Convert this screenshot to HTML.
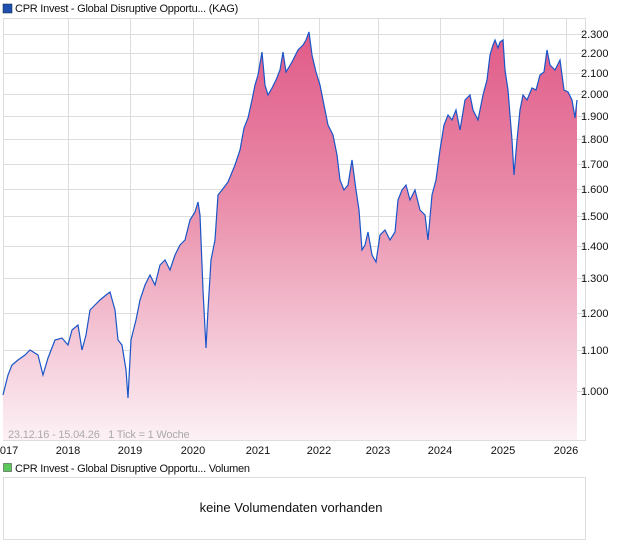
<!DOCTYPE html>
<html><head><meta charset="utf-8"><style>
body{margin:0;background:#fff;width:620px;height:546px;overflow:hidden;font-family:"Liberation Sans",sans-serif}
</style></head><body>
<svg width="620" height="546" xmlns="http://www.w3.org/2000/svg" font-family="Liberation Sans, sans-serif">
<defs><linearGradient id="g" x1="0" y1="30" x2="0" y2="440" gradientUnits="userSpaceOnUse">
<stop offset="0" stop-color="#e05a88"/><stop offset="0.4" stop-color="#e98aa8"/><stop offset="1" stop-color="#fcf1f5"/></linearGradient></defs>
<rect x="3" y="4" width="9" height="9" fill="#1f4fb0" stroke="#123" stroke-width="0.5"/>
<text x="15" y="12" font-size="11" letter-spacing="-0.25" fill="#111">CPR Invest - Global Disruptive Opportu... (KAG)</text>
<rect x="3.5" y="18.5" width="582" height="422" fill="#fff" stroke="#ddd"/>
<g stroke="#ddd" stroke-width="1">
<line x1="68.5" y1="18" x2="68.5" y2="440"/><line x1="130.5" y1="18" x2="130.5" y2="440"/><line x1="193.5" y1="18" x2="193.5" y2="440"/><line x1="258.5" y1="18" x2="258.5" y2="440"/><line x1="319.5" y1="18" x2="319.5" y2="440"/><line x1="378.5" y1="18" x2="378.5" y2="440"/><line x1="440.5" y1="18" x2="440.5" y2="440"/><line x1="503.5" y1="18" x2="503.5" y2="440"/><line x1="566.5" y1="18" x2="566.5" y2="440"/>
<line x1="3" y1="34.5" x2="585" y2="34.5"/><line x1="3" y1="53.5" x2="585" y2="53.5"/><line x1="3" y1="73.5" x2="585" y2="73.5"/><line x1="3" y1="94.5" x2="585" y2="94.5"/><line x1="3" y1="116.5" x2="585" y2="116.5"/><line x1="3" y1="139.5" x2="585" y2="139.5"/><line x1="3" y1="164.5" x2="585" y2="164.5"/><line x1="3" y1="189.5" x2="585" y2="189.5"/><line x1="3" y1="216.5" x2="585" y2="216.5"/><line x1="3" y1="246.5" x2="585" y2="246.5"/><line x1="3" y1="278.5" x2="585" y2="278.5"/><line x1="3" y1="313.5" x2="585" y2="313.5"/><line x1="3" y1="350.5" x2="585" y2="350.5"/><line x1="3" y1="391.5" x2="585" y2="391.5"/>
</g>
<polygon fill="url(#g)" points="3,440 3,395 8,375 12,365 18,360 25,355 30,350 38,355 43,375 48,358 55,340 62,338 68,345 72,330 78,325 82,350 86,335 90,310 95,305 100,300 106,295 110,292 115,310 118,340 122,345 126,370 128,398 131,340 136,320 140,300 145,285 150,275 155,285 160,265 165,260 170,270 175,255 180,245 185,240 190,220 195,212 198,202 200,215 203,290 206,348 208,310 211,260 215,240 218,195 222,190 228,182 235,165 240,150 244,128 248,118 252,100 255,85 258,75 262,52 265,85 268,95 272,88 276,80 280,70 283,52 286,72 292,62 298,50 303,45 306,40 309,32 312,55 316,72 320,85 324,105 328,125 333,135 337,155 340,180 344,190 348,185 352,160 356,190 359,210 362,250 365,245 368,232 372,255 376,262 380,235 385,230 390,240 395,232 398,200 402,190 406,185 410,200 415,190 420,210 425,215 428,240 432,195 436,180 440,150 444,125 448,115 452,120 456,110 460,130 465,100 470,95 473,110 478,120 483,95 487,80 490,55 493,45 495,40 498,48 500,42 503,40 505,70 508,90 512,140 514,175 517,140 520,110 523,95 527,100 532,88 536,90 540,75 544,72 547,50 550,65 555,70 560,60 564,90 568,92 572,100 575,118 577,100 577,440"/>
<polyline fill="none" stroke="#1a55c8" stroke-width="1.2" points="3,395 8,375 12,365 18,360 25,355 30,350 38,355 43,375 48,358 55,340 62,338 68,345 72,330 78,325 82,350 86,335 90,310 95,305 100,300 106,295 110,292 115,310 118,340 122,345 126,370 128,398 131,340 136,320 140,300 145,285 150,275 155,285 160,265 165,260 170,270 175,255 180,245 185,240 190,220 195,212 198,202 200,215 203,290 206,348 208,310 211,260 215,240 218,195 222,190 228,182 235,165 240,150 244,128 248,118 252,100 255,85 258,75 262,52 265,85 268,95 272,88 276,80 280,70 283,52 286,72 292,62 298,50 303,45 306,40 309,32 312,55 316,72 320,85 324,105 328,125 333,135 337,155 340,180 344,190 348,185 352,160 356,190 359,210 362,250 365,245 368,232 372,255 376,262 380,235 385,230 390,240 395,232 398,200 402,190 406,185 410,200 415,190 420,210 425,215 428,240 432,195 436,180 440,150 444,125 448,115 452,120 456,110 460,130 465,100 470,95 473,110 478,120 483,95 487,80 490,55 493,45 495,40 498,48 500,42 503,40 505,70 508,90 512,140 514,175 517,140 520,110 523,95 527,100 532,88 536,90 540,75 544,72 547,50 550,65 555,70 560,60 564,90 568,92 572,100 575,118 577,100"/>
<text x="8" y="438" font-size="11" fill="#aaa" letter-spacing="-0.2">23.12.16 - 15.04.26 &#160; 1 Tick = 1 Woche</text>
<g font-size="11" fill="#111">
<text x="581" y="38">2.300</text><text x="581" y="57">2.200</text><text x="581" y="77">2.100</text><text x="581" y="98">2.000</text><text x="581" y="120">1.900</text><text x="581" y="143">1.800</text><text x="581" y="168">1.700</text><text x="581" y="193">1.600</text><text x="581" y="220">1.500</text><text x="581" y="250">1.400</text><text x="581" y="282">1.300</text><text x="581" y="317">1.200</text><text x="581" y="354">1.100</text><text x="581" y="395">1.000</text>
</g>
<g font-size="11" fill="#111" text-anchor="middle">
<text x="6" y="454">2017</text><text x="68" y="454">2018</text><text x="130" y="454">2019</text><text x="193" y="454">2020</text><text x="258" y="454">2021</text><text x="319" y="454">2022</text><text x="378" y="454">2023</text><text x="440" y="454">2024</text><text x="503" y="454">2025</text><text x="566" y="454">2026</text>
</g>
<rect x="3.5" y="463.5" width="8" height="8" fill="#5cc85c" stroke="#333" stroke-width="0.5"/>
<text x="15" y="472" font-size="11" letter-spacing="-0.25" fill="#111">CPR Invest - Global Disruptive Opportu... Volumen</text>
<rect x="3.5" y="477.5" width="582" height="62" fill="#fff" stroke="#ddd"/>
<text x="291" y="512" font-size="13" fill="#111" text-anchor="middle">keine Volumendaten vorhanden</text>
</svg>
</body></html>
